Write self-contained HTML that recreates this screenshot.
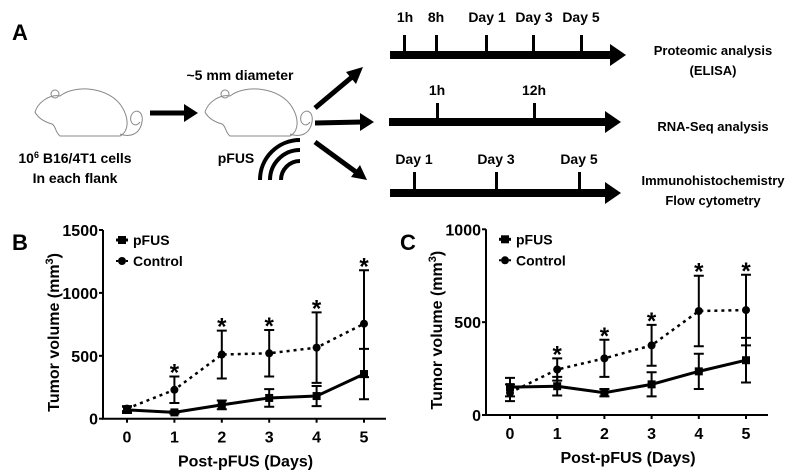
<!DOCTYPE html>
<html><head><meta charset="utf-8"><style>
body{margin:0;background:#fff;}
svg{display:block;font-family:"Liberation Sans",Arial,sans-serif;font-weight:bold;}
</style></head><body>
<svg id="fig" width="791" height="473" viewBox="0 0 791 473">
<defs>
<g id="mouse">
<path d="M5,30 C8,20 20,12 30,14 C45,2 80,5 92,25 C100,38 98,50 90,54 L30,54 C25,50 26,44 22,42 C15,40 8,36 5,30 Z" fill="none" stroke="#888" stroke-width="1"/>
<path d="M90,52 C100,56 110,52 112,40 C114,28 104,26 101,34 C99,42 106,46 110,40" fill="none" stroke="#888" stroke-width="1"/>
<circle cx="25" cy="12" r="4" fill="none" stroke="#888" stroke-width="1"/>
</g>
</defs>
<text x="12" y="40" font-size="22">A</text>
<use href="#mouse" x="30" y="82"/>
<use href="#mouse" x="200" y="82"/>
<text x="75" y="163" font-size="14" text-anchor="middle">10<tspan font-size="9" dy="-5">6</tspan><tspan dy="5"> B16/4T1 cells</tspan></text>
<text x="75" y="183" font-size="14" text-anchor="middle">In each flank</text>
<text x="240" y="80" font-size="14" text-anchor="middle">~5 mm diameter</text>
<text x="236" y="163" font-size="14" text-anchor="middle">pFUS</text>
<g fill="none" stroke="#000" stroke-width="4">
<path d="M270,180 A30,30 0 0 1 300,150"/><path d="M281,180 A19,19 0 0 1 300,161"/><path d="M260,180 A40,40 0 0 1 300,140"/>
</g>
<g stroke="#000" stroke-width="5" fill="#000">
<line x1="150" y1="113" x2="186" y2="113"/><polygon points="198,113 184,104 184,122" stroke="none"/>
<line x1="315" y1="108" x2="352" y2="77"/><polygon points="363,67 346,72 356,84" stroke="none"/>
<line x1="315" y1="123" x2="362" y2="122"/><polygon points="374,122 360,113 360,131" stroke="none"/>
<line x1="315" y1="142" x2="356" y2="172"/><polygon points="367,180 351,177 360,165" stroke="none"/>
</g>
<g>
<rect x="390" y="51" width="222" height="8"/><polygon points="610,44 626,55 610,66"/>
<g font-size="14" text-anchor="middle">
<rect x="403" y="35" width="3" height="18"/><text x="405" y="22">1h</text>
<rect x="435" y="35" width="3" height="18"/><text x="436" y="22">8h</text>
<rect x="485" y="35" width="3" height="18"/><text x="487" y="22">Day 1</text>
<rect x="532" y="35" width="3" height="18"/><text x="534" y="22">Day 3</text>
<rect x="580" y="35" width="3" height="18"/><text x="581" y="22">Day 5</text>
</g></g>
<g>
<rect x="389" y="118" width="218" height="8"/><polygon points="605,111 621,122 605,133"/>
<g font-size="14" text-anchor="middle">
<rect x="436" y="103" width="3" height="18"/><text x="437" y="95">1h</text>
<rect x="533" y="103" width="3" height="18"/><text x="534" y="95">12h</text>
</g></g>
<g>
<rect x="390" y="189" width="217" height="8"/><polygon points="605,182 621,193 605,204"/>
<g font-size="14" text-anchor="middle">
<rect x="413" y="172" width="3" height="20"/><text x="414" y="164">Day 1</text>
<rect x="495" y="172" width="3" height="20"/><text x="496" y="164">Day 3</text>
<rect x="578" y="172" width="3" height="20"/><text x="579" y="164">Day 5</text>
</g></g>
<g font-size="13" text-anchor="middle">
<text x="713" y="55">Proteomic analysis</text><text x="713" y="75">(ELISA)</text>
<text x="713" y="131">RNA-Seq analysis</text>
<text x="713" y="185">Immunohistochemistry</text><text x="713" y="205">Flow cytometry</text>
</g>
<text x="12" y="250" font-size="22">B</text>
<text x="400" y="250" font-size="22">C</text>
<g id="chartB"></g>
<g id="chartC"></g>
</svg>
<script>
const days = [0,1,2,3,4,5];
const bPfus = [70,50,110,165,180,355];
const bPfusErr = [25,10,35,70,80,200];
const bCtrl = [80,230,510,520,565,755];
const bCtrlErr = [20,105,190,185,280,425];
const bTicks = [0,500,1000,1500];
const cPfus = [150,155,120,165,235,295];
const cPfusErr = [50,50,20,65,95,120];
const cCtrl = [120,245,305,375,560,565];
const cCtrlErr = [45,60,100,110,190,190];
const cTicks = [0,500,1000];
const sigDays = [1,2,3,4,5];
const NS='http://www.w3.org/2000/svg';
function mk(p,t,a){const e=document.createElementNS(NS,t);for(const k in a)e.setAttribute(k,a[k]);p.appendChild(e);return e;}
function chart(g,o){
  const X=d=>o.x0+d*(o.x5-o.x0)/5, Y=v=>o.y0-v*(o.y0-o.yTop)/o.ymax;
  const ax=mk(g,'path',{d:`M${o.ax},${Y(o.ymax)} V${o.y0} H${o.x5+22}`,fill:'none',stroke:'#000','stroke-width':2});
  
  
  o.ticks.forEach(t=>{
    mk(g,'line',{x1:o.ax-4,x2:o.ax,y1:Y(t),y2:Y(t),stroke:'#000','stroke-width':2});
    const tx=mk(g,'text',{x:o.ax-5,y:Y(t)+6,'font-size':16,'text-anchor':'end'});tx.textContent=t;
    
    
  });
  days.forEach(d=>{
    mk(g,'line',{x1:X(d),x2:X(d),y1:o.y0,y2:o.y0+4,stroke:'#000','stroke-width':2});
    const tx=mk(g,'text',{x:X(d),y:o.y0+24,'font-size':16,'text-anchor':'middle'});tx.textContent=d;
    
    
  });
  const xt=mk(g,'text',{x:(o.x0+o.x5)/2,y:o.y0+48,'font-size':16,'text-anchor':'middle'});xt.textContent='Post-pFUS (Days)';
  
  
  const yt=mk(g,'text',{transform:`translate(${o.ax-44},${(o.y0+Y(o.ymax))/2+8}) rotate(-90)`,'font-size':16,'text-anchor':'middle'});
  yt.innerHTML='Tumor volume (mm<tspan font-size="11" dy="-6">3</tspan><tspan dy="6">)</tspan>';
  
  
  function series(vals,errs,dash,sq,name){
    const s=mk(g,'g',{});
    
    
    mk(s,'polyline',{points:days.map(d=>X(d)+','+Y(vals[d])).join(' '),fill:'none',stroke:'#000','stroke-width':dash?2.5:3,'stroke-dasharray':dash?'3,4':'none'});
    days.forEach(d=>{
      const x=X(d),y1=Y(vals[d]+errs[d]),y2=Y(vals[d]-errs[d]);
      mk(s,'path',{d:`M${x},${y1}V${y2}M${x-5},${y1}H${x+5}M${x-5},${y2}H${x+5}`,stroke:'#000','stroke-width':2,fill:'none'});
      if(sq) mk(s,'rect',{x:x-4,y:Y(vals[d])-4,width:8,height:8});
      else mk(s,'circle',{cx:x,cy:Y(vals[d]),r:4});
    });
  }
  series(o.ctrl,o.ctrlErr,true,false,'control-series');
  series(o.pfus,o.pfusErr,false,true,'pfus-series');
  sigDays.forEach(d=>{
    const st=mk(g,'text',{x:X(d),y:Y(o.ctrl[d]+o.ctrlErr[d])+4,'font-size':24,'text-anchor':'middle'});st.textContent='*';
    
    
  });
  const lg=mk(g,'g',{});
  
  
  const lx=o.ax+13, ly=Y(o.ymax)+10;
  mk(lg,'line',{x1:lx,x2:lx+12,y1:ly,y2:ly,stroke:'#000','stroke-width':3});
  mk(lg,'rect',{x:lx+2,y:ly-4,width:8,height:8});
  const t1=mk(lg,'text',{x:lx+17,y:ly+5,'font-size':14});t1.textContent='pFUS';
  mk(lg,'line',{x1:lx,x2:lx+12,y1:ly+21,y2:ly+21,stroke:'#000','stroke-width':2,'stroke-dasharray':'2,3'});
  mk(lg,'circle',{cx:lx+6,cy:ly+21,r:4});
  const t2=mk(lg,'text',{x:lx+17,y:ly+26,'font-size':14});t2.textContent='Control';
}
chart(document.getElementById('chartB'),{ax:103,x0:127,x5:364,y0:418.7,yTop:230,ymax:1500,ticks:bTicks,pfus:bPfus,pfusErr:bPfusErr,ctrl:bCtrl,ctrlErr:bCtrlErr});
chart(document.getElementById('chartC'),{ax:486,x0:510,x5:746,y0:415,yTop:229.3,ymax:1000,ticks:cTicks,pfus:cPfus,pfusErr:cPfusErr,ctrl:cCtrl,ctrlErr:cCtrlErr});
</script>
</body></html>
